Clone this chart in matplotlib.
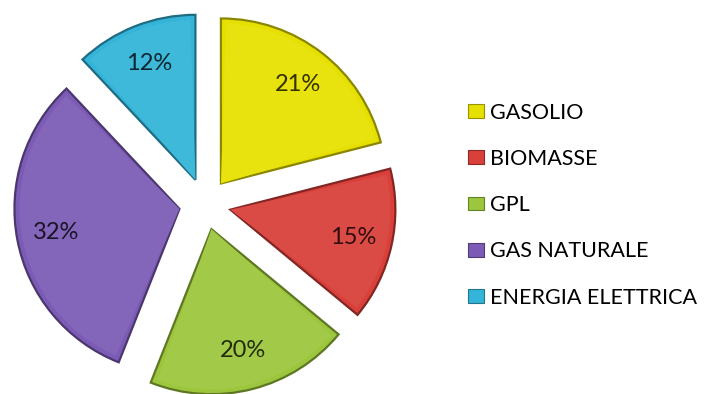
import numpy as np
import matplotlib.pyplot as plt
from matplotlib.patches import Patch, Wedge
from matplotlib.colors import to_rgb

categories = ["GASOLIO", "BIOMASSE", "GPL", "GAS NATURALE", "ENERGIA ELETTRICA"]
shares = [21, 15, 20, 32, 12]
colors = ["#E6E000", "#D9403A", "#9CC63C", "#7B5BB5", "#33B4D8"]

plt.rcParams['font.family'] = ['Lato', 'DejaVu Sans']

W, H = 710, 394
fig = plt.figure(figsize=(W / 100, H / 100), dpi=100)
ax = fig.add_axes([0, 0, 1, 1])

cx, cy, R, gap = 205, 190, 165, 26


def shade(c, f):
    r, g, b = to_rgb(c)
    if f < 1:
        return (r * f, g * f, b * f)
    return (r + (1 - r) * (f - 1), g + (1 - g) * (f - 1), b + (1 - b) * (f - 1))


wedges, _, autotexts = ax.pie(
    shares, colors=colors, startangle=90, counterclock=False,
    center=(cx, cy), radius=R, explode=[gap] * len(shares),
    autopct='%d%%', pctdistance=0.76, frame=True,
    wedgeprops=dict(linewidth=1.6),
    textprops=dict(fontsize=17))
ax.set_xlim(0, W)
ax.set_ylim(0, H)
ax.set_aspect('equal')
ax.axis('off')

for w, c, t in zip(wedges, colors, autotexts):
    w.set_edgecolor(shade(c, 0.6))
    t.set_color(shade(c, 0.22))
    # soft bevel: a slightly lighter inset face
    inner = Wedge(w.center, w.r - 5, w.theta1 + 1.8, w.theta2 - 1.8,
                  facecolor=shade(c, 1.06), edgecolor='none', zorder=w.get_zorder() + 0.1)
    ax.add_patch(inner)
    t.set_zorder(inner.get_zorder() + 1)

handles = [Patch(facecolor=c, edgecolor=shade(c, 0.65), linewidth=0.8) for c in colors]
ax.legend(handles, categories, loc='upper left', bbox_to_anchor=(459 / W, 1 - 94 / H),
          frameon=False, fontsize=15.5, handlelength=0.75, handleheight=0.6,
          handletextpad=0.3, labelspacing=1.22, borderaxespad=0)

fig.savefig('out.png', dpi=100, facecolor='white')
